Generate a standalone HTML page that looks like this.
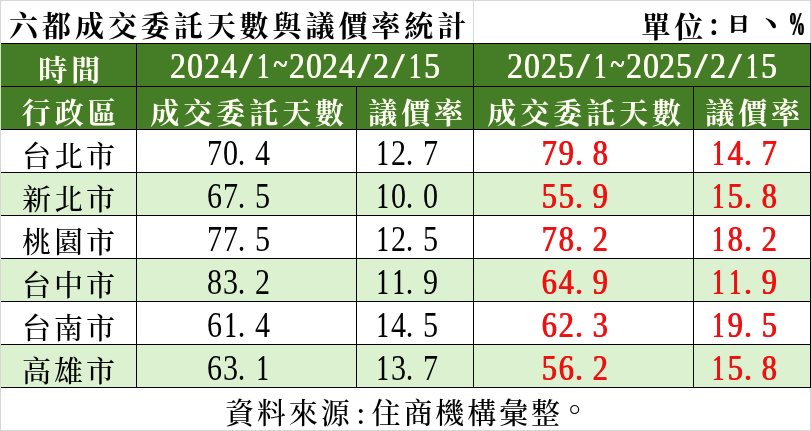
<!DOCTYPE html>
<html lang="zh-Hant">
<head>
<meta charset="utf-8">
<title>六都成交委託天數與議價率統計</title>
<style>
html,body{margin:0;padding:0;background:#fff;}
#root{position:relative;width:811px;height:431px;background:#fff;overflow:hidden;
  font-family:"Liberation Serif","Noto Serif CJK SC",serif;}
.ln{position:absolute;background:#d6d6d6;}
.blk{position:absolute;background:#000;}
.cell{position:absolute;display:flex;align-items:center;justify-content:center;white-space:nowrap;overflow:visible;
  font-family:"Noto Serif CJK SC",serif;font-size:29.0px;line-height:42px;color:#000;font-weight:500;}
.cell span{position:relative;display:inline-block;}
.zh{top:4.0px;letter-spacing:2.90px;margin-left:2.90px;}
.zh.bd{font-weight:700;letter-spacing:3.93px;margin-left:3.93px;}
.wh{color:#fffff4;}
.cell .zh.bd.wh{left:0.7px;}
.num{font-family:"Liberation Serif",serif;font-size:35.0px;top:2.0px;left:-0.8px;font-weight:400;}
.num.h{top:1.0px;left:-0.5px;}
.num .c{width:15.9px;text-align:center;transform:scaleX(0.86);}
.num.h .c{transform:scaleX(0.9);}
.num .p{text-align:left;text-indent:-1.5px;}
.num.b{font-weight:400;text-shadow:1.1px 0 0 currentColor;}
.num.b .c{width:16.95px;}
.num.b .p{text-indent:-0.5px;}
.num .c.one{transform:scaleX(0.68);text-shadow:0.5px 0 0 currentColor;}
.num.b .c.one{transform:scaleX(0.68);text-shadow:1.6px 0 0 currentColor;}
.num.h .c.sl{transform:scaleX(1.35);}
.num.h .c.ti{transform:scaleX(0.75);top:-2px;}
.red{color:#ee1111;}
.ri{transform:scale(0.78,0.68);top:-2.8px;-webkit-text-stroke:0.6px #000;}
.num.h{text-shadow:0.8px 0 0 currentColor;}
.cell .zh.hw{width:16.95px;text-align:center;letter-spacing:0;margin:0;}
.cell .zh.fw{width:32.93px;text-align:center;letter-spacing:0;margin:0;}
.cell .zh.hwr{width:16px;text-align:center;letter-spacing:0;margin:0;}
.cell .zh.fwr{width:31.9px;text-align:center;letter-spacing:0;margin:0;}
.pc{font-family:"Liberation Serif",serif;font-size:33px;font-weight:700;transform:scaleX(0.5);top:-3px;left:-0.5px;margin:0 -8px;text-shadow:1.4px 0 0 #000;}
.cell .dun{left:8.7px;top:-10.2px;font-weight:500;transform:scale(1.4);transform-origin:7px 30px;}
.cell .stop{left:5.1px;top:-9.7px;transform:scale(1.12);transform-origin:7px 30px;}
</style>
</head>
<body>
<div id="root">

<div class="ln" style="left:0;top:0;width:811px;height:1px"></div>
<div class="ln" style="left:0;top:0;width:1px;height:431px"></div>
<div class="ln" style="left:473px;top:0;width:1px;height:43px"></div>
<div class="ln" style="left:810px;top:0;width:1px;height:431px"></div>
<div class="ln" style="left:0;top:430px;width:811px;height:1px"></div>
<div class="ln" style="left:0;top:43px;width:1px;height:87px;background:#cfe3c6"></div>
<div class="blk" style="left:1px;top:43px;width:810px;height:345px"></div>
<div class="cell title" style="left:1px;top:1px;width:472px;height:42px;justify-content:flex-start;padding-left:4.2px;box-sizing:border-box;"><span class="zh bd" style="top:3.2px">六都成交委託天數與議價率統計</span></div>
<div class="cell unit" style="left:474px;top:1px;width:336px;height:42px;justify-content:flex-end;padding-right:5px;box-sizing:border-box;"><span class="zh bd" style="margin:0 -1.97px 0 1.97px">單位</span><span class="zh bd hw" style="top:1px">:</span><span class="zh bd fw"><span class="ri">日</span></span><span class="zh bd fw dun">、</span><span class="zh bd hw"><span class="pc">%</span></span></div>
<div class="cell" style="left:1px;top:44px;width:135px;height:42px;background:#447d25;"><span class="zh bd wh">時間</span></div>
<div class="cell" style="left:137px;top:44px;width:336px;height:42px;background:#447d25;"><span class="wh"><span class="num b h"><span class="c">2</span><span class="c">0</span><span class="c">2</span><span class="c">4</span><span class="c sl">/</span><span class="c one">1</span><span class="c ti">~</span><span class="c">2</span><span class="c">0</span><span class="c">2</span><span class="c">4</span><span class="c sl">/</span><span class="c">2</span><span class="c sl">/</span><span class="c one">1</span><span class="c">5</span></span></span></div>
<div class="cell" style="left:474px;top:44px;width:336px;height:42px;background:#447d25;"><span class="wh"><span class="num b h"><span class="c">2</span><span class="c">0</span><span class="c">2</span><span class="c">5</span><span class="c sl">/</span><span class="c one">1</span><span class="c ti">~</span><span class="c">2</span><span class="c">0</span><span class="c">2</span><span class="c">5</span><span class="c sl">/</span><span class="c">2</span><span class="c sl">/</span><span class="c one">1</span><span class="c">5</span></span></span></div>
<div class="cell" style="left:1px;top:87px;width:135px;height:42px;background:#447d25;"><span class="zh bd wh">行政區</span></div>
<div class="cell" style="left:137px;top:87px;width:219px;height:42px;background:#447d25;"><span class="zh bd wh">成交委託天數</span></div>
<div class="cell" style="left:357px;top:87px;width:116px;height:42px;background:#447d25;"><span class="zh bd wh">議價率</span></div>
<div class="cell" style="left:474px;top:87px;width:219px;height:42px;background:#447d25;"><span class="zh bd wh">成交委託天數</span></div>
<div class="cell" style="left:694px;top:87px;width:116px;height:42px;background:#447d25;"><span class="zh bd wh">議價率</span></div>
<div class="cell" style="left:1px;top:130px;width:135px;height:42px;background:#fff;"><span class="zh">台北市</span></div>
<div class="cell" style="left:137px;top:130px;width:219px;height:42px;background:#fff;"><span><span class="num"><span class="c">7</span><span class="c">0</span><span class="c p">.</span><span class="c">4</span><span class="c">&nbsp;</span></span></span></div>
<div class="cell" style="left:357px;top:130px;width:116px;height:42px;background:#fff;"><span><span class="num"><span class="c one">1</span><span class="c">2</span><span class="c p">.</span><span class="c">7</span><span class="c">&nbsp;</span></span></span></div>
<div class="cell" style="left:474px;top:130px;width:219px;height:42px;background:#fff;"><span class="red"><span class="num b"><span class="c">7</span><span class="c">9</span><span class="c p">.</span><span class="c">8</span><span class="c">&nbsp;</span></span></span></div>
<div class="cell" style="left:694px;top:130px;width:116px;height:42px;background:#fff;"><span class="red"><span class="num b"><span class="c one">1</span><span class="c">4</span><span class="c p">.</span><span class="c">7</span><span class="c">&nbsp;</span></span></span></div>
<div class="cell" style="left:1px;top:173px;width:135px;height:42px;background:#dbf1d0;"><span class="zh">新北市</span></div>
<div class="cell" style="left:137px;top:173px;width:219px;height:42px;background:#dbf1d0;"><span><span class="num"><span class="c">6</span><span class="c">7</span><span class="c p">.</span><span class="c">5</span><span class="c">&nbsp;</span></span></span></div>
<div class="cell" style="left:357px;top:173px;width:116px;height:42px;background:#dbf1d0;"><span><span class="num"><span class="c one">1</span><span class="c">0</span><span class="c p">.</span><span class="c">0</span><span class="c">&nbsp;</span></span></span></div>
<div class="cell" style="left:474px;top:173px;width:219px;height:42px;background:#dbf1d0;"><span class="red"><span class="num b"><span class="c">5</span><span class="c">5</span><span class="c p">.</span><span class="c">9</span><span class="c">&nbsp;</span></span></span></div>
<div class="cell" style="left:694px;top:173px;width:116px;height:42px;background:#dbf1d0;"><span class="red"><span class="num b"><span class="c one">1</span><span class="c">5</span><span class="c p">.</span><span class="c">8</span><span class="c">&nbsp;</span></span></span></div>
<div class="cell" style="left:1px;top:216px;width:135px;height:42px;background:#fff;"><span class="zh">桃園市</span></div>
<div class="cell" style="left:137px;top:216px;width:219px;height:42px;background:#fff;"><span><span class="num"><span class="c">7</span><span class="c">7</span><span class="c p">.</span><span class="c">5</span><span class="c">&nbsp;</span></span></span></div>
<div class="cell" style="left:357px;top:216px;width:116px;height:42px;background:#fff;"><span><span class="num"><span class="c one">1</span><span class="c">2</span><span class="c p">.</span><span class="c">5</span><span class="c">&nbsp;</span></span></span></div>
<div class="cell" style="left:474px;top:216px;width:219px;height:42px;background:#fff;"><span class="red"><span class="num b"><span class="c">7</span><span class="c">8</span><span class="c p">.</span><span class="c">2</span><span class="c">&nbsp;</span></span></span></div>
<div class="cell" style="left:694px;top:216px;width:116px;height:42px;background:#fff;"><span class="red"><span class="num b"><span class="c one">1</span><span class="c">8</span><span class="c p">.</span><span class="c">2</span><span class="c">&nbsp;</span></span></span></div>
<div class="cell" style="left:1px;top:259px;width:135px;height:42px;background:#dbf1d0;"><span class="zh">台中市</span></div>
<div class="cell" style="left:137px;top:259px;width:219px;height:42px;background:#dbf1d0;"><span><span class="num"><span class="c">8</span><span class="c">3</span><span class="c p">.</span><span class="c">2</span><span class="c">&nbsp;</span></span></span></div>
<div class="cell" style="left:357px;top:259px;width:116px;height:42px;background:#dbf1d0;"><span><span class="num"><span class="c one">1</span><span class="c one">1</span><span class="c p">.</span><span class="c">9</span><span class="c">&nbsp;</span></span></span></div>
<div class="cell" style="left:474px;top:259px;width:219px;height:42px;background:#dbf1d0;"><span class="red"><span class="num b"><span class="c">6</span><span class="c">4</span><span class="c p">.</span><span class="c">9</span><span class="c">&nbsp;</span></span></span></div>
<div class="cell" style="left:694px;top:259px;width:116px;height:42px;background:#dbf1d0;"><span class="red"><span class="num b"><span class="c one">1</span><span class="c one">1</span><span class="c p">.</span><span class="c">9</span><span class="c">&nbsp;</span></span></span></div>
<div class="cell" style="left:1px;top:302px;width:135px;height:42px;background:#fff;"><span class="zh">台南市</span></div>
<div class="cell" style="left:137px;top:302px;width:219px;height:42px;background:#fff;"><span><span class="num"><span class="c">6</span><span class="c one">1</span><span class="c p">.</span><span class="c">4</span><span class="c">&nbsp;</span></span></span></div>
<div class="cell" style="left:357px;top:302px;width:116px;height:42px;background:#fff;"><span><span class="num"><span class="c one">1</span><span class="c">4</span><span class="c p">.</span><span class="c">5</span><span class="c">&nbsp;</span></span></span></div>
<div class="cell" style="left:474px;top:302px;width:219px;height:42px;background:#fff;"><span class="red"><span class="num b"><span class="c">6</span><span class="c">2</span><span class="c p">.</span><span class="c">3</span><span class="c">&nbsp;</span></span></span></div>
<div class="cell" style="left:694px;top:302px;width:116px;height:42px;background:#fff;"><span class="red"><span class="num b"><span class="c one">1</span><span class="c">9</span><span class="c p">.</span><span class="c">5</span><span class="c">&nbsp;</span></span></span></div>
<div class="cell" style="left:1px;top:345px;width:135px;height:42px;background:#dbf1d0;"><span class="zh">高雄市</span></div>
<div class="cell" style="left:137px;top:345px;width:219px;height:42px;background:#dbf1d0;"><span><span class="num"><span class="c">6</span><span class="c">3</span><span class="c p">.</span><span class="c one">1</span><span class="c">&nbsp;</span></span></span></div>
<div class="cell" style="left:357px;top:345px;width:116px;height:42px;background:#dbf1d0;"><span><span class="num"><span class="c one">1</span><span class="c">3</span><span class="c p">.</span><span class="c">7</span><span class="c">&nbsp;</span></span></span></div>
<div class="cell" style="left:474px;top:345px;width:219px;height:42px;background:#dbf1d0;"><span class="red"><span class="num b"><span class="c">5</span><span class="c">6</span><span class="c p">.</span><span class="c">2</span><span class="c">&nbsp;</span></span></span></div>
<div class="cell" style="left:694px;top:345px;width:116px;height:42px;background:#dbf1d0;"><span class="red"><span class="num b"><span class="c one">1</span><span class="c">5</span><span class="c p">.</span><span class="c">8</span><span class="c">&nbsp;</span></span></span></div>
<div class="cell foot" style="left:1px;top:388px;width:809px;height:42px;padding-left:6px;box-sizing:border-box;"><span class="zh" style="top:2.5px">資料來源</span><span class="zh hwr" style="top:2.5px">:</span><span class="zh" style="top:2.5px">住商機構彙整</span><span class="zh fwr stop">。</span></div>
</div>
</body>
</html>
